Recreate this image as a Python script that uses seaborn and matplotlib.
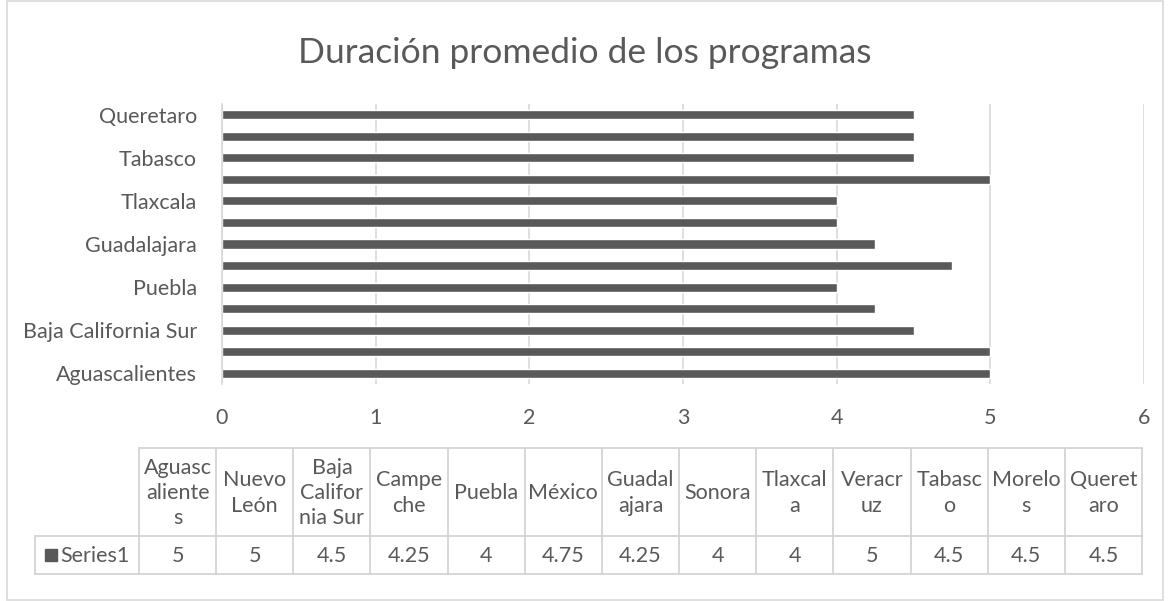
import matplotlib
matplotlib.use('Agg')
import matplotlib.pyplot as plt
import seaborn as sns
import pandas as pd

# ------------------------------------------------------------
# data
# ------------------------------------------------------------
estados = ['Aguascalientes', 'Nuevo León', 'Baja California Sur', 'Campeche',
           'Puebla', 'México', 'Guadalajara', 'Sonora', 'Tlaxcala',
           'Veracruz', 'Tabasco', 'Morelos', 'Queretaro']
duracion = [5, 5, 4.5, 4.25, 4, 4.75, 4.25, 4, 4, 5, 4.5, 4.5, 4.5]
# header text as wrapped in the data table
encabezados = ['Aguasc\naliente\ns', 'Nuevo\nLeón', 'Baja\nCalifor\nnia Sur',
               'Campe\nche', 'Puebla', 'México', 'Guadal\najara', 'Sonora',
               'Tlaxcal\na', 'Veracr\nuz', 'Tabasc\no', 'Morelo\ns', 'Queret\naro']
serie = 'Series1'
titulo = 'Duración promedio de los programas'

barcolor = '#595959'
textcolor = '#595959'
gridcolor = '#d9d9d9'

sns.set_style('white')
plt.rcParams['font.family'] = ['Lato', 'DejaVu Sans']

W, H = 1170, 601
fig = plt.figure(figsize=(W / 100, H / 100), dpi=100)

def px_axes(x0, y0, x1, y1):
    return fig.add_axes([x0 / W, 1 - y1 / H, (x1 - x0) / W, (y1 - y0) / H])

# ------------------------------------------------------------
# bar chart
# ------------------------------------------------------------
ax = px_axes(222, 104, 1144, 384)
df = pd.DataFrame({'estado': estados, 'duracion': duracion})
orden = estados[::-1]
sns.barplot(data=df, x='duracion', y='estado', order=orden, orient='h',
            color=barcolor, width=0.42, saturation=1, ax=ax)
ax.set_xlim(0, 6)
ax.set_ylim(len(estados) - 0.5, -0.5)
ax.set_xticks(range(7))
ax.grid(axis='x', color=gridcolor, lw=1.2)
ax.set_axisbelow(True)
ax.set_yticks(range(0, len(orden), 2))
ax.set_yticklabels(orden[::2])
ax.set_xlabel('')
ax.set_ylabel('')
for s in ['top', 'right', 'bottom']:
    ax.spines[s].set_visible(False)
ax.spines['left'].set_color(gridcolor)
ax.spines['left'].set_linewidth(1.2)
ax.tick_params(axis='both', length=0, labelsize=15.5, colors=textcolor)
ax.tick_params(axis='x', pad=17)
ax.tick_params(axis='y', pad=18)

fig.text(585 / W, 1 - 53 / H, titulo, ha='center', va='center',
         fontsize=25.5, color=textcolor)

# ------------------------------------------------------------
# data table under the chart (pixel-coordinate overlay)
# ------------------------------------------------------------
tab = fig.add_axes([0, 0, 1, 1])
tab.set_xlim(0, W)
tab.set_ylim(H, 0)
tab.axis('off')
tab.patch.set_alpha(0)

x_first = 35
x0 = 139
x_end = 1142
y_top, y_mid, y_bot = 448, 536, 574
ncol = len(estados)
cw = (x_end - x0) / ncol
lc = '#d4d4d4'
# grid lines of the table
tab.plot([x0, x_end], [y_top, y_top], color=lc, lw=1.3)
tab.plot([x_first, x_end], [y_mid, y_mid], color=lc, lw=1.3)
tab.plot([x_first, x_end], [y_bot, y_bot], color=lc, lw=1.3)
tab.plot([x_first, x_first], [y_mid, y_bot], color=lc, lw=1.3)
for i in range(ncol + 1):
    xx = x0 + i * cw
    tab.plot([xx, xx], [y_top, y_bot], color=lc, lw=1.3)
for i, (h, v) in enumerate(zip(encabezados, duracion)):
    cx = x0 + (i + 0.5) * cw
    tab.text(cx, (y_top + y_mid) / 2 + 1, h, ha='center', va='center',
             fontsize=15.5, color=textcolor, linespacing=1.32)
    tab.text(cx, (y_mid + y_bot) / 2 + 1, f'{v:g}', ha='center', va='center',
             fontsize=15.5, color=textcolor)
tab.add_patch(plt.Rectangle((45, 549), 12, 12, color=barcolor))
tab.text(60, (y_mid + y_bot) / 2 + 1, serie, ha='left', va='center',
         fontsize=15.5, color=textcolor)

# outer chart frame
tab.add_patch(plt.Rectangle((7, 1), W - 14, H - 2, fill=False,
                            edgecolor=gridcolor, lw=1.2))

fig.savefig('out.png', dpi=100)
